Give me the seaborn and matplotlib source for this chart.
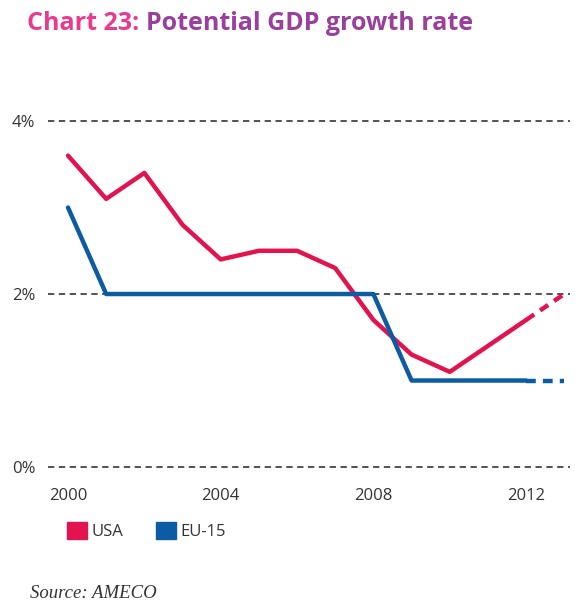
import pandas as pd
import matplotlib.pyplot as plt
import seaborn as sns
from matplotlib.patches import Patch

years = [2000, 2001, 2002, 2003, 2004, 2005, 2006, 2007, 2008, 2009, 2010, 2011, 2012]
usa = [3.6, 3.1, 3.4, 2.8, 2.4, 2.5, 2.5, 2.3, 1.7, 1.3, 1.1, 1.4, 1.7]
eu15 = [3.0, 2.0, 2.0, 2.0, 2.0, 2.0, 2.0, 2.0, 2.0, 1.0, 1.0, 1.0, 1.0]

# projection (dashed)
proj_years = [2012, 2013]
usa_proj = [1.7, 2.0]
eu15_proj = [1.0, 1.0]

y_ticks = [0, 2, 4]
x_ticks = [2000, 2004, 2008, 2012]

usa_col = '#e2134f'
eu_col = '#0b5ca3'

sns.set_theme(style='white')
plt.rcParams['font.family'] = ['Open Sans', 'DejaVu Sans']

df = pd.DataFrame({'Year': years * 2, 'Value': usa + eu15,
                   'Series': ['USA'] * len(years) + ['EU-15'] * len(years)})
df_proj = pd.DataFrame({'Year': proj_years * 2, 'Value': usa_proj + eu15_proj,
                        'Series': ['USA'] * 2 + ['EU-15'] * 2})
pal = {'USA': usa_col, 'EU-15': eu_col}

fig = plt.figure(figsize=(5.75, 6.04), dpi=100)
ax = fig.add_axes([48 / 575, 1 - 480 / 604, 522 / 575, 380 / 604])

for v in y_ticks:
    ax.axhline(v, color='#444444', lw=1.3, ls=(0, (3.5, 2.5)), zorder=1)

sns.lineplot(data=df, x='Year', y='Value', hue='Series', palette=pal,
             linewidth=3.2, ax=ax, legend=False, zorder=3)
sns.lineplot(data=df_proj, x='Year', y='Value', hue='Series', palette=pal,
             linewidth=3.2, ax=ax, legend=False, zorder=3)
for ln in ax.lines[-2:]:
    ln.set_linestyle((0, (2.2, 1.6)))

ax.set_xlim(1999.476, 2013.15)
ax.set_ylim(-0.15, 4.243)
ax.set_xticks(x_ticks)
ax.set_yticks(y_ticks)
ax.set_yticklabels([f'{v}%' for v in y_ticks])
ax.tick_params(axis='both', length=0, labelsize=12, colors='#333333')
ax.tick_params(axis='y', pad=9)
ax.tick_params(axis='x', pad=6)
ax.set_xlabel('')
ax.set_ylabel('')
sns.despine(ax=ax, left=True, bottom=True)

# two-colour title
t1 = fig.text(27 / 575, 1 - 23 / 604, 'Chart 23: ', color='#ea3a8d', fontsize=18,
              fontweight='bold', va='center', ha='left')
fig.canvas.draw()
r = t1.get_window_extent()
fig.text(r.x1 / fig.bbox.width, 1 - 23 / 604, 'Potential GDP growth rate',
         color='#9a3f9c', fontsize=18, fontweight='bold', va='center', ha='left')

handles = [Patch(color=usa_col, label='USA'), Patch(color=eu_col, label='EU-15')]
fig.legend(handles=handles, loc='center left', ncol=2, frameon=False,
           bbox_to_anchor=(52 / 575, 1 - 531 / 604), handlelength=1.2,
           handleheight=1.2, handletextpad=0.25, columnspacing=2.0,
           prop={'size': 12}, labelcolor='#333333')

fig.text(30 / 575, 1 - 598 / 604, 'Source: AMECO', fontsize=13.5, style='italic',
         family='Liberation Serif', color='#333333', va='baseline', ha='left')

fig.savefig('out.png', dpi=100)
